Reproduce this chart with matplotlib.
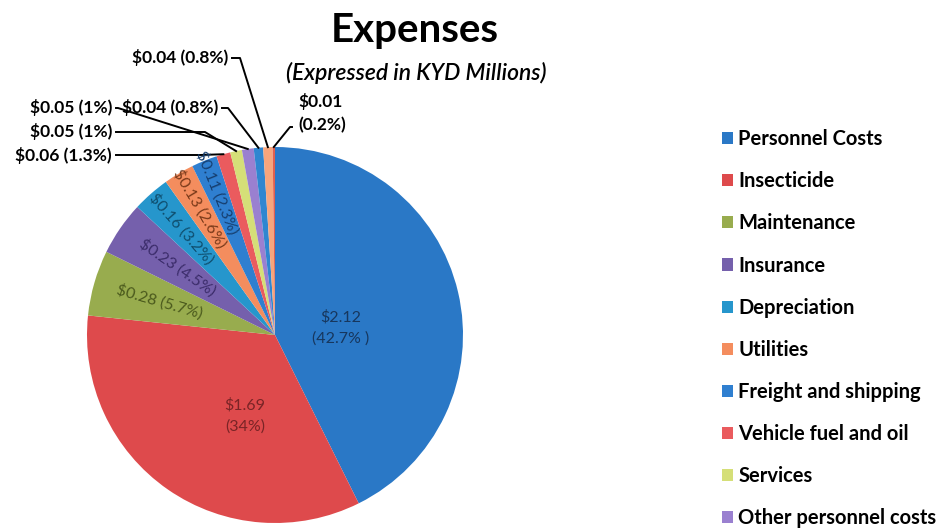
import numpy as np
import matplotlib
matplotlib.use("Agg")
import matplotlib.pyplot as plt

plt.rcParams['font.family'] = ['Lato', 'DejaVu Sans']

categories = ["Personnel Costs", "Insecticide", "Maintenance", "Insurance",
              "Depreciation", "Utilities", "Freight and shipping",
              "Vehicle fuel and oil", "Services", "Other personnel costs",
              "Other 1", "Other 2", "Other 3"]
values = [2.12, 1.69, 0.28, 0.23, 0.16, 0.13, 0.11, 0.06, 0.05, 0.05, 0.04, 0.04, 0.01]
pct_text = ["42.7% ", "34%", "5.7%", "4.5%", "3.2%", "2.6%", "2.3%",
            "1.3%", "1%", "1%", "0.8%", "0.8%", "0.2%"]
colors = ["#2a78c6", "#de4a4c", "#98ac4e", "#7560ac", "#2696cc", "#f48d5e",
          "#2f7fd0", "#ea5b5e", "#d5df78", "#9a80d0", "#2f86d0", "#f7a57c", "#e0604f"]
label_colors = ["#17375e", "#7a2426", "#4b5a1d", "#3b2c6a", "#0f4e6e", "#7a3a1a",
                "#163f70"]

fig = plt.figure(figsize=(9.51, 5.29), dpi=100)
W, H = 951, 529
cx, cy, R = 275, 335, 188
ax = fig.add_axes([(cx - R) / W, (H - cy - R) / H, 2 * R / W, 2 * R / H])
wedges, _ = ax.pie(values, colors=colors, startangle=90, counterclock=False,
                   radius=1, wedgeprops=dict(linewidth=0))
ax.set_xlim(-1, 1)
ax.set_ylim(-1, 1)
ax.set_aspect('auto')
ax.axis('off')

def mid(w):
    return np.deg2rad((w.theta1 + w.theta2) / 2)

# big labels
big_pos = [(0.35, 0.04), (-0.16, -0.43)]
for i, (x, y) in enumerate(big_pos):
    ax.text(x, y, "$%.2f\n(%s)" % (values[i], pct_text[i]), ha='center', va='center',
            fontsize=11.5, color=label_colors[i], linespacing=1.6)

# rotated labels
rad = [0.64, 0.63, 0.75, 0.78, 0.82]
for k, i in enumerate(range(2, 7)):
    a = mid(wedges[i])
    ax.text(rad[k] * np.cos(a), rad[k] * np.sin(a),
            "$%.2f (%s)" % (values[i], pct_text[i]),
            rotation=np.rad2deg(a) - 180, rotation_mode='anchor',
            ha='center', va='center', fontsize=11.5, color=label_colors[i])

# callouts for small slices (text anchor in figure pixels)
call = [(7, 112, 155, 200), (8, 112, 132, 205), (9, 112, 108, 118),
        (10, 218, 108, 228), (11, 228, 58, 240), (12, 298, 113, 290)]
for i, tx, ty, kx in call:
    a = mid(wedges[i])
    px, py = 1.0 * np.cos(a), 1.0 * np.sin(a)
    fx, fy = tx / W, 1 - ty / H
    if i == 12:
        txt = "$%.2f\n(%s)" % (values[i], pct_text[i])
        fig.text(fx, fy, txt, ha='left', va='center', fontsize=12.5,
                 fontweight='bold', linespacing=1.5)
        ex, ey = (tx - 6) / W, 1 - (ty + 14) / H
    else:
        txt = "$%.2f (%s)" % (values[i], pct_text[i])
        fig.text(fx, fy, txt, ha='right', va='center', fontsize=12.5,
                 fontweight='bold')
        ex, ey = (tx + 4) / W, fy
    dx, dy = ax.transData.inverted().transform(fig.transFigure.transform((ex, ey)))
    kxd, _ = ax.transData.inverted().transform(fig.transFigure.transform((kx / W, ey)))
    ax.plot([dx, kxd, px], [dy, dy, py], color='black', lw=1.4, clip_on=False)

fig.text(0.436, 0.943, "Expenses", ha='center', va='center', fontsize=29,
         fontweight='bold')
fig.text(0.438, 0.862, "(Expressed in KYD Millions)", ha='center', va='center',
         fontsize=16.5, style='italic', fontweight='semibold')

fig.legend(wedges[:10], categories[:10], loc='upper left',
           bbox_to_anchor=(704 / W, 1 - 111 / H), frameon=False,
           handlelength=0.55, handleheight=0.55, handletextpad=0.25,
           labelspacing=1.1, prop={'weight': 'bold', 'size': 14.5})

fig.savefig("out.png", dpi=100)
